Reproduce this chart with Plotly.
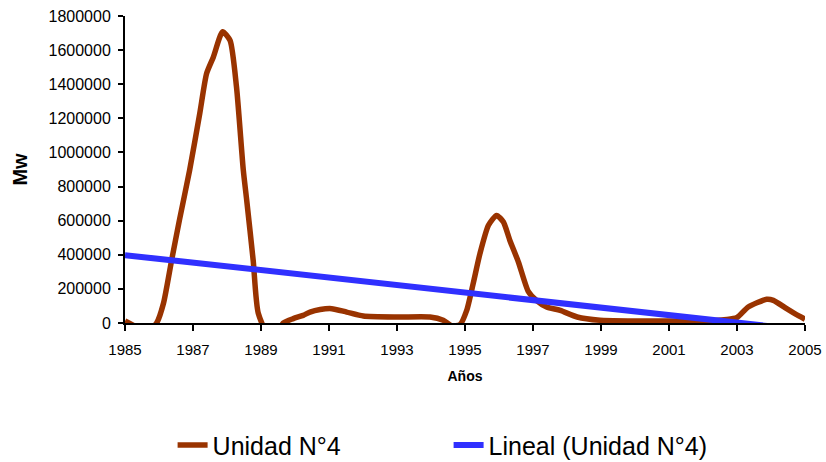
import plotly.graph_objects as go

# ---- data ----
years = [1985.0, 1985.3, 1985.6, 1985.93, 1986.13, 1986.37, 1986.6, 1986.9, 1987.2,
         1987.4, 1987.6, 1987.87, 1988.09, 1988.28, 1988.48, 1988.58, 1988.77, 1988.92,
         1989.3, 1989.66, 1989.95, 1990.24, 1990.44, 1990.74, 1991.08, 1991.52, 1992.01,
         1993.0, 1993.97, 1994.36, 1994.6, 1994.85, 1995.05, 1995.24, 1995.44, 1995.69,
         1995.93, 1996.13, 1996.32, 1996.57, 1996.86, 1997.1, 1997.4, 1997.8, 1998.3,
         1998.97, 1999.85, 2000.93, 2001.9, 2002.7, 2003.0, 2003.33, 2003.87, 2004.07,
         2004.46, 2004.7, 2005.0]
unidad4 = [12000, -20000, -60000, 0, 114000, 367000, 602000, 895000, 1230000,
           1463000, 1560000, 1708000, 1657000, 1383000, 895000, 719000, 367000, 57000,
           -100000, 0, 26000, 45000, 64000, 79000, 84000, 64000, 41000,
           35000, 35000, 16000, -15000, -10000, 74000, 231000, 407000, 573000,
           631000, 592000, 484000, 358000, 186000, 133000, 94000, 74000, 35000,
           16000, 12000, 12000, 10000, 20000, 32000, 94000, 139000, 133000,
           84000, 55000, 22000]

trend_years = [1985, 2005]
trend_values = [398000, -42000]

x_ticks = [1985, 1987, 1989, 1991, 1993, 1995, 1997, 1999, 2001, 2003, 2005]
y_ticks = [0, 200000, 400000, 600000, 800000, 1000000, 1200000, 1400000, 1600000, 1800000]

FONT = "Liberation Sans, Arial, sans-serif"

fig = go.Figure()
fig.add_trace(go.Scatter(
    x=years, y=unidad4, mode="lines", name="Unidad N°4",
    line=dict(color="#993300", width=5.5, shape="spline", smoothing=0.6),
))
fig.add_trace(go.Scatter(
    x=trend_years, y=trend_values, mode="lines", name="Lineal (Unidad N°4)",
    line=dict(color="#3030ff", width=6),
))

fig.update_layout(
    width=826, height=462,
    margin=dict(l=125, r=21, t=16, b=139, autoexpand=False),
    paper_bgcolor="white", plot_bgcolor="white",
    font=dict(family=FONT, color="black"),
    showlegend=True,
    legend=dict(orientation="h", x=0.07, xanchor="left", y=-0.398, yanchor="middle",
                font=dict(size=25, family=FONT), entrywidth=231, entrywidthmode="pixels",
                bgcolor="rgba(0,0,0,0)"),
)
fig.update_xaxes(
    range=[1985, 2005], tickvals=x_ticks, ticktext=[str(v) for v in x_ticks],
    showline=True, linecolor="black", linewidth=2, ticks="outside", ticklen=6,
    tickwidth=2, tickcolor="black", showgrid=False, zeroline=False, automargin=False,
    tickfont=dict(size=15, family=FONT), ticklabelstandoff=6,
    title=dict(text="<b>Años</b>", font=dict(size=14, family=FONT), standoff=14),
)
fig.update_yaxes(
    range=[0, 1800000], tickvals=y_ticks, tickformat="d",
    showline=True, linecolor="black", linewidth=2, ticks="outside", ticklen=5,
    tickwidth=2, tickcolor="black", showgrid=False, zeroline=False, automargin=False,
    tickfont=dict(size=16, family=FONT), ticklabelstandoff=4,
    title=dict(text="<b>Mw</b>", font=dict(size=20, family=FONT), standoff=16),
)

fig.write_html("out.html")
